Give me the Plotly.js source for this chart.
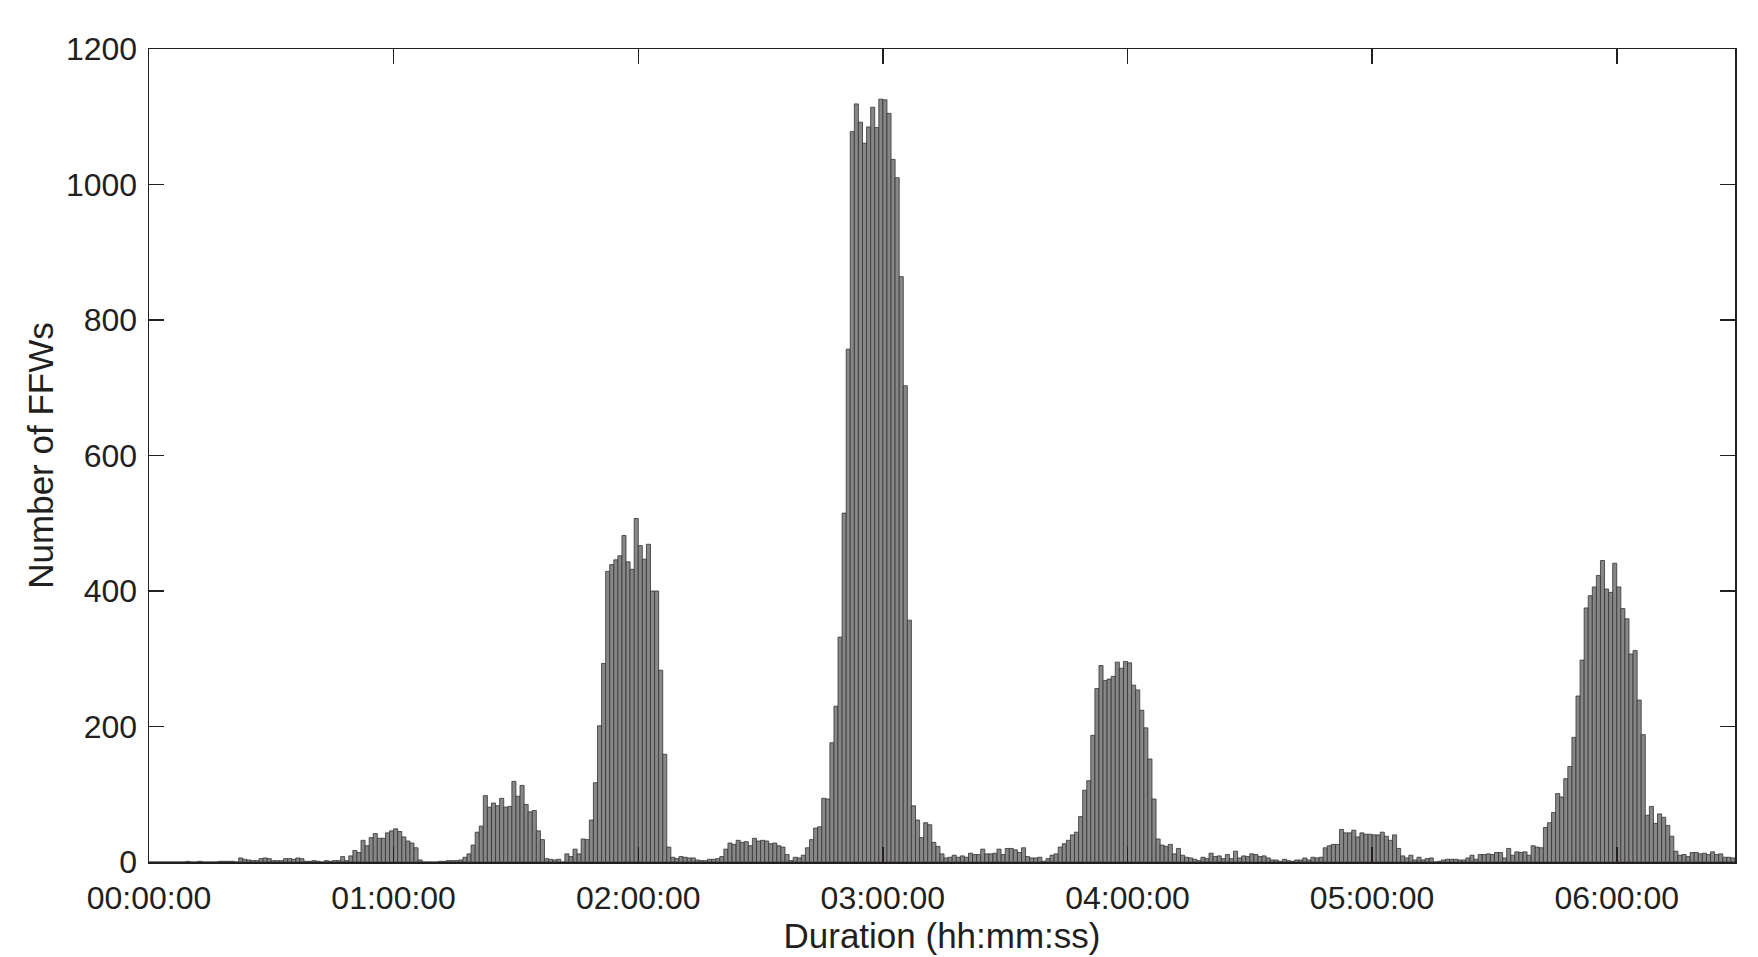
<!DOCTYPE html>
<html>
<head>
<meta charset="utf-8">
<script src="https://cdn.plot.ly/plotly-3.0.1.min.js"></script>
<style>
  html, body { margin: 0; padding: 0; background: #ffffff; }
  #chart { width: 1758px; height: 957px; }
</style>
</head>
<body>
<div id="chart"></div>
<script>
// Histogram of FFW durations, 1-minute bins starting at 00:00:00
const binWidthMinutes = 1;
const counts = [
  0,0,0,0,0,0,0,0,0,1,
  0,0,1,0,0,0,0,1,1,1,
  1,0,6,4,3,2,2,5,6,5,
  2,2,2,5,5,4,6,5,1,1,
  2,1,0,2,1,2,2,8,2,9,
  17,14,32,24,36,42,35,35,43,46,
  49,45,37,31,28,21,3,0,0,0,
  0,1,1,2,2,2,3,7,12,25,
  44,53,98,81,87,83,94,81,82,119,
  97,113,85,74,76,46,33,5,4,3,
  4,0,12,8,19,12,34,33,62,117,
  201,293,429,439,446,452,482,443,432,507,
  467,447,469,400,400,283,159,22,7,5,
  8,7,6,6,3,2,2,4,4,5,
  8,19,28,26,32,29,30,24,35,31,
  32,31,27,28,24,22,11,2,7,6,
  10,21,33,50,52,94,93,176,230,332,
  515,757,1078,1119,1092,1061,1085,1114,1084,1126,
  1125,1105,1037,1010,864,703,357,83,62,36,
  58,55,29,23,12,6,7,10,7,9,
  7,13,11,11,19,12,12,13,19,11,
  20,20,18,14,21,8,6,6,7,1,
  5,10,12,22,27,32,40,44,67,106,
  120,187,256,290,268,270,274,295,286,296,
  294,261,254,224,198,152,93,34,25,23,
  26,12,20,10,7,6,4,2,7,5,
  13,8,9,5,11,5,16,6,9,8,
  12,11,8,9,6,3,3,1,4,2,
  1,3,3,6,3,7,6,7,21,24,
  26,26,48,43,43,47,37,43,41,41,
  40,40,44,38,32,40,20,9,6,10,
  3,7,3,5,6,0,1,3,4,4,
  4,3,3,6,10,4,11,11,12,11,
  14,14,6,20,10,15,14,15,10,24,
  22,21,51,58,73,101,96,123,141,184,
  245,298,375,393,406,423,445,403,398,441,
  406,374,359,307,312,239,188,69,82,57,
  71,66,54,38,16,10,11,8,14,14,
  12,13,11,15,11,12,7,7,6
];
const xTickMinutes = [0, 60, 120, 180, 240, 300, 360];
const xTickLabels = ['00:00:00', '01:00:00', '02:00:00', '03:00:00', '04:00:00', '05:00:00', '06:00:00'];
const yTickValues = [0, 200, 400, 600, 800, 1000, 1200];

const binCenters = counts.map((_, i) => (i + 0.5) * binWidthMinutes);
const xMax = counts.length * binWidthMinutes;

const ink = '#231f20';
const fontFamily = 'Liberation Sans, Arial, Helvetica, sans-serif';

const trace = {
  type: 'bar',
  x: binCenters,
  y: counts,
  width: binWidthMinutes,
  marker: { color: '#878787', line: { color: '#333333', width: 0.8 } },
  hoverinfo: 'skip'
};

const axisCommon = {
  showline: true, linecolor: ink, linewidth: 1.5, mirror: 'ticks',
  ticks: 'inside', ticklen: 15, tickwidth: 1.5, tickcolor: ink,
  showgrid: false, zeroline: false, automargin: false,
  tickfont: { family: fontFamily, size: 32, color: ink }
};

const layout = {
  width: 1758, height: 957,
  paper_bgcolor: '#ffffff', plot_bgcolor: '#ffffff',
  margin: { l: 149, r: 23, t: 49, b: 95 },
  bargap: 0,
  showlegend: false,
  font: { family: fontFamily, color: ink },
  xaxis: Object.assign({}, axisCommon, {
    range: [0, xMax],
    tickmode: 'array', tickvals: xTickMinutes, ticktext: xTickLabels,
    ticklabelstandoff: 7,
    title: { text: 'Duration (hh:mm:ss)', font: { family: fontFamily, size: 35, color: ink }, standoff: 6 }
  }),
  yaxis: Object.assign({}, axisCommon, {
    range: [0, 1200],
    tickmode: 'array', tickvals: yTickValues, ticktext: yTickValues.map(String),
    ticklabelstandoff: 4,
    title: { text: 'Number of FFWs', font: { family: fontFamily, size: 35, color: ink }, standoff: 1 }
  })
};

Plotly.newPlot('chart', [trace], layout, { displayModeBar: false, staticPlot: true });
</script>
</body>
</html>
